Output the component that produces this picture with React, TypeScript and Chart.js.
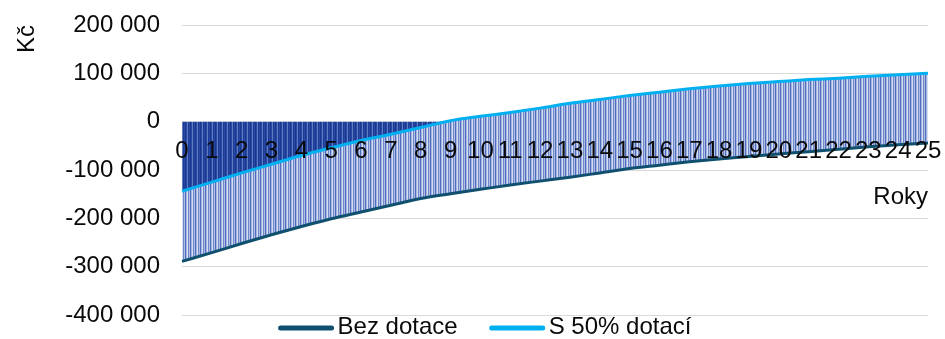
import React, { useEffect, useRef } from 'react';
import { Chart, registerables } from 'chart.js';

Chart.register(...registerables);

// ---- data ----
const years = ['0','1','2','3','4','5','6','7','8','9','10','11','12','13','14','15','16','17','18','19','20','21','22','23','24','25'];
const bezDotace = [-289000,-271000,-252000,-234000,-217000,-201000,-187000,-173000,-159000,-149000,-140000,-131000,-123000,-115000,-106000,-97000,-90000,-83000,-77000,-72000,-67000,-62000,-57000,-52000,-48000,-44000];
const s50Dotaci = [-144000,-125000,-106000,-88000,-70000,-54000,-39000,-26000,-12000,2000,11000,19000,28000,38000,46000,54000,61000,68000,74000,79000,83000,87000,90000,94000,97000,100000];
const seriesNames = ['Bez dotace', 'S 50% dotací'];
const yMin = -400000;
const yMax = 200000;
const yStep = 100000;
const yAxisTitle = 'Kč';
const xAxisTitle = 'Roky';

// ---- styles ----
const FONT_FAMILY = '"Liberation Sans", Arial, sans-serif';
const FONT_SIZE = 24;
const TEXT_COLOR = '#0a0a0a';
const BEZ_COLOR = '#10506f';
const S50_COLOR = '#00b0f0';
const LIGHT_COLS = ['#4f6dc0', '#a6b5de', '#d5ddf0', '#6f88ca', '#b1bfe3'];
const DARK_COLS = ['#1a3790', '#2a4ba5', '#5f7bc2', '#1c3c96', '#2848a3'];

function fmt(v: number): string {
  const s = Math.abs(Math.round(v)).toString().replace(/\B(?=(\d{3})+(?!\d))/g, ' ');
  return (v < 0 ? '-' : '') + s;
}

function makePattern(ctx: CanvasRenderingContext2D, cols: string[]): CanvasPattern {
  const c = document.createElement('canvas');
  c.width = cols.length;
  c.height = 1;
  const g = c.getContext('2d')!;
  cols.forEach((col, i) => {
    g.fillStyle = col;
    g.fillRect(i, 0, 1, 1);
  });
  return ctx.createPattern(c, 'repeat')!;
}

const legendPlugin = {
  id: 'customLegend',
  afterDraw(chart: any) {
    const ctx: CanvasRenderingContext2D = chart.ctx;
    const items = chart.data.datasets.map((ds: any) => ({ text: ds.label as string, color: ds.borderColor as string }));
    const markerW = 55, markerGap = 4, itemGap = 32;
    const centerX = 485, y = 327;
    ctx.save();
    ctx.font = `${FONT_SIZE}px ${FONT_FAMILY}`;
    const widths = items.map((it: any) => markerW + markerGap + ctx.measureText(it.text).width);
    const total = widths.reduce((a: number, b: number) => a + b, 0) + itemGap * (items.length - 1);
    let x = centerX - total / 2;
    items.forEach((it: any, i: number) => {
      ctx.strokeStyle = it.color;
      ctx.lineWidth = 5;
      ctx.lineCap = 'round';
      ctx.beginPath();
      ctx.moveTo(x + 2, y + 1);
      ctx.lineTo(x + markerW - 2, y + 1);
      ctx.stroke();
      ctx.fillStyle = TEXT_COLOR;
      ctx.textAlign = 'left';
      ctx.textBaseline = 'middle';
      ctx.fillText(it.text, x + markerW + markerGap, y);
      x += widths[i] + itemGap;
    });
    ctx.restore();
  },
};

export default function App() {
  const ref = useRef<HTMLCanvasElement>(null);

  useEffect(() => {
    const canvas = ref.current!;
    const ctx = canvas.getContext('2d')!;
    const light = makePattern(ctx, LIGHT_COLS);
    const dark = makePattern(ctx, DARK_COLS);
    const font = { family: FONT_FAMILY, size: FONT_SIZE };

    const chart = new Chart(canvas, {
      type: 'line',
      data: {
        labels: years,
        datasets: [
          {
            label: seriesNames[0],
            data: bezDotace,
            borderColor: BEZ_COLOR,
            borderWidth: 3,
            pointRadius: 0,
            cubicInterpolationMode: 'monotone',
            fill: { target: 1, above: light, below: light },
          },
          {
            label: seriesNames[1],
            data: s50Dotaci,
            borderColor: S50_COLOR,
            borderWidth: 3,
            pointRadius: 0,
            cubicInterpolationMode: 'monotone',
            fill: { target: 'origin', above: light, below: dark },
          },
        ],
      } as any,
      options: {
        animation: false,
        responsive: false,
        devicePixelRatio: 1,
        layout: { padding: { left: 0, top: 25, right: 17, bottom: 24 } },
        plugins: {
          legend: { display: false },
          tooltip: { enabled: false },
          filler: { drawTime: 'beforeDatasetsDraw' },
        } as any,
        scales: {
          x: {
            type: 'category',
            offset: false,
            position: { y: 0 } as any,
            grid: { display: false, drawTicks: false },
            border: { display: false },
            ticks: { z: 1, autoSkip: false, maxRotation: 0, minRotation: 0, padding: 15, font, color: TEXT_COLOR },
            title: { display: true, text: xAxisTitle, align: 'end', padding: { top: 3, bottom: 0 }, font, color: TEXT_COLOR },
            afterFit: (s: any) => { s.paddingLeft = 0; s.paddingRight = 0; },
          },
          y: {
            min: yMin,
            max: yMax,
            grid: { color: '#d9d9d9', lineWidth: 1, drawTicks: false },
            border: { display: false },
            ticks: { stepSize: yStep, padding: 22, font, color: TEXT_COLOR, callback: (v: any) => fmt(Number(v)) },
            title: { display: true, text: yAxisTitle, align: 'end', padding: { top: 13, bottom: 0 }, font, color: TEXT_COLOR },
            afterFit: (s: any) => { s.width = 182; s.paddingTop = 0; s.paddingBottom = 0; },
          },
        } as any,
      },
      plugins: [legendPlugin],
    });
    return () => chart.destroy();
  }, []);

  return (
    <div style={{ position: 'fixed', left: 0, top: 0, width: 945, height: 339, background: '#fff' }}>
      <canvas ref={ref} width={945} height={339} />
    </div>
  );
}
